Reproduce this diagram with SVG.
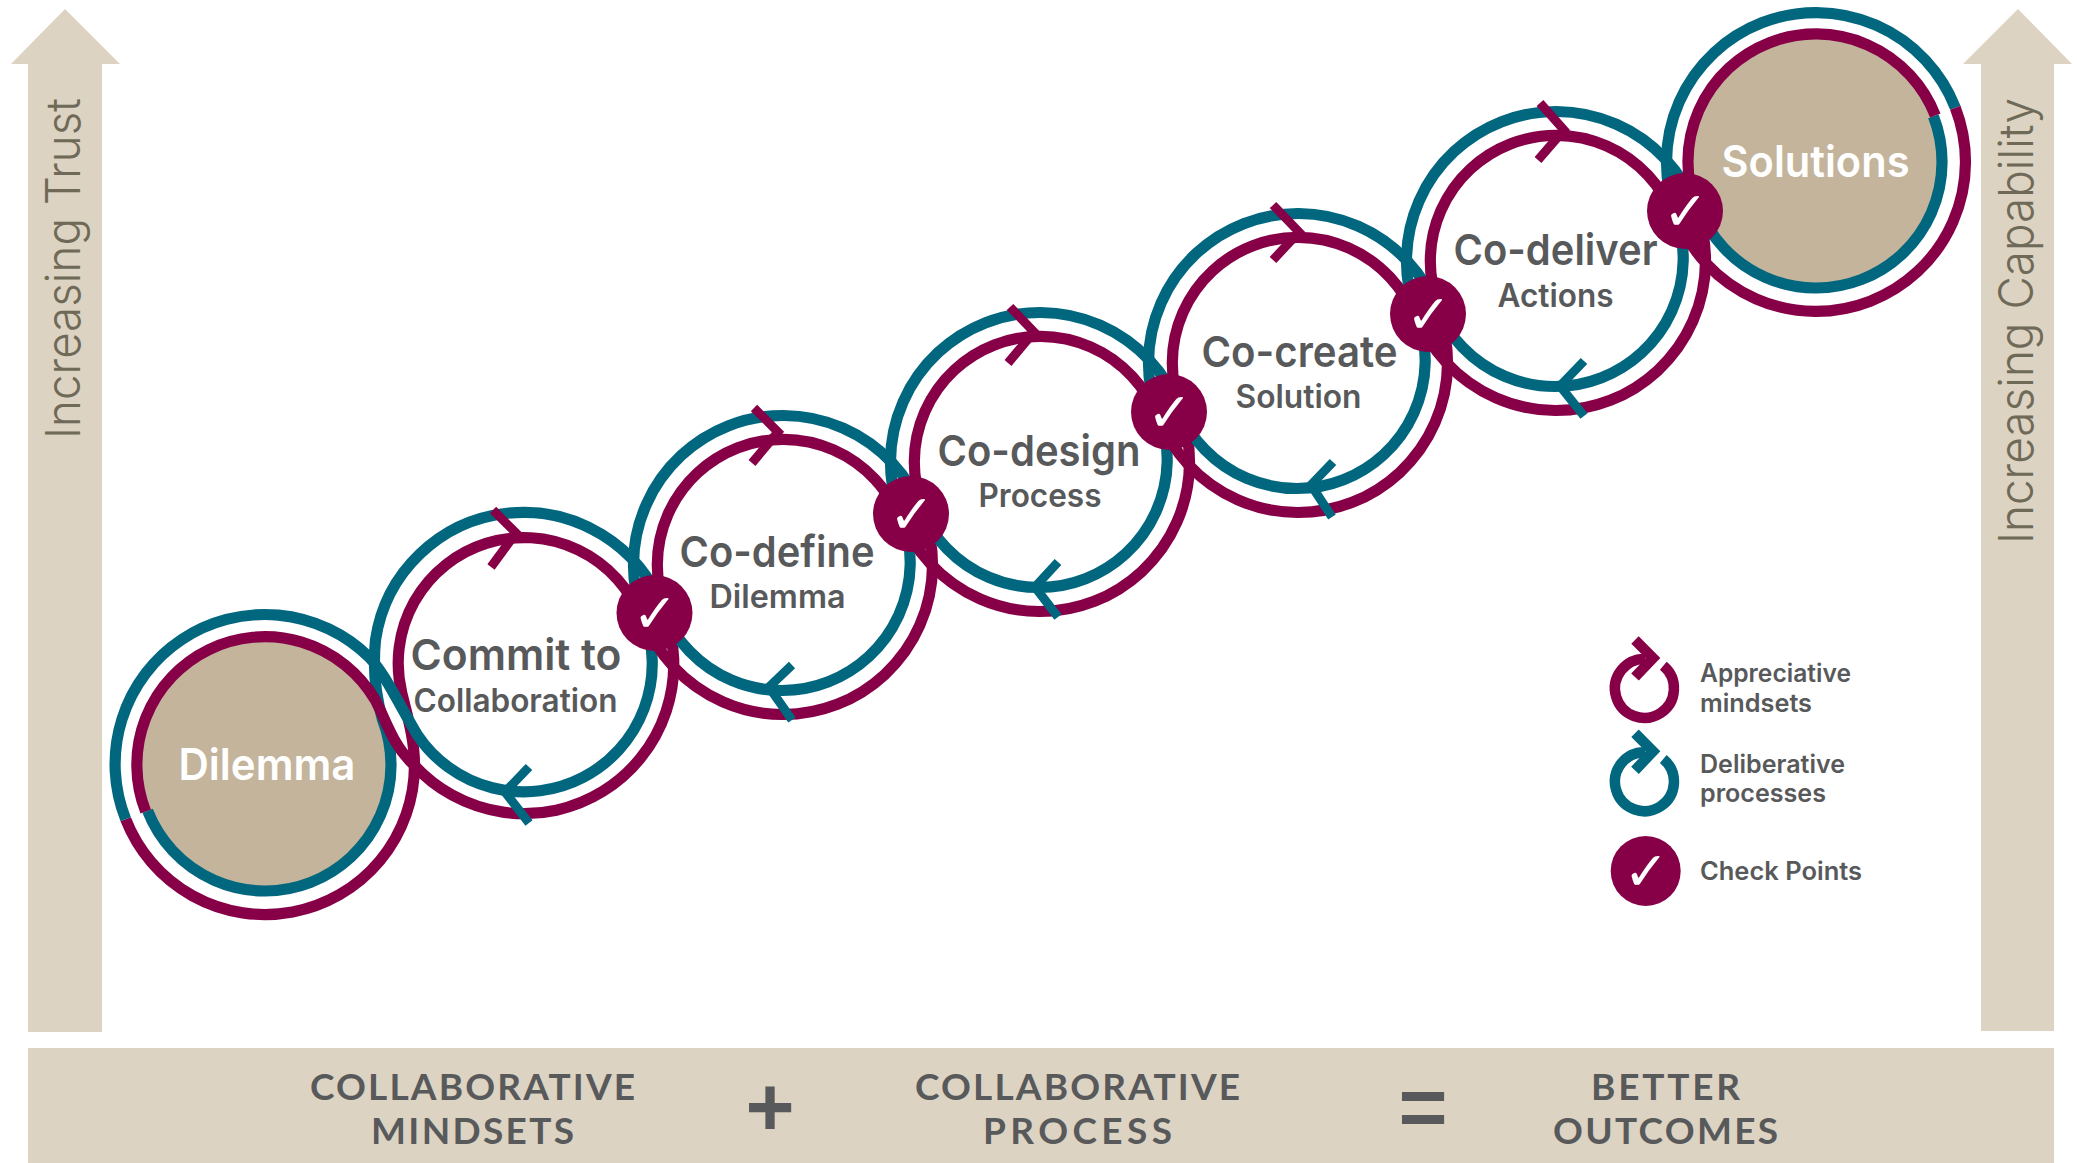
<svg xmlns="http://www.w3.org/2000/svg" xmlns:xlink="http://www.w3.org/1999/xlink" width="2077" height="1163" viewBox="0 0 2077 1163">
<style>
.t{fill:none;stroke:#00677f;stroke-width:11.2}
.m{fill:none;stroke:#870047;stroke-width:11.2}
.cm{fill:none;stroke:#870047;stroke-width:9;stroke-miterlimit:10}
.ct{fill:none;stroke:#00677f;stroke-width:9;stroke-miterlimit:10}
.bg{fill:#dcd3c2}
.end{fill:#c3b49b}
.chk{fill:#870047}
.ck{fill:#fff;font-family:"DejaVu Sans",sans-serif;font-weight:700;font-size:54px;text-anchor:middle}
.h{fill:#58595b;font-family:"Inter",sans-serif;font-weight:600;font-size:43px}
.s{fill:#58595b;font-family:"Inter",sans-serif;font-weight:600;font-size:32px}
.w{fill:#fff;font-family:"Inter",sans-serif;font-weight:600;font-size:44px}
.l{fill:#58595b;font-family:"Inter",sans-serif;font-weight:600;font-size:25px}
.b{fill:#58595b;font-family:"Lato",sans-serif;font-weight:700;font-size:37px}
.op{fill:#58595b;font-family:"Liberation Sans",sans-serif;font-weight:700;font-size:84px;text-anchor:middle}
.a{fill:#6f6a57;font-family:"Inter",sans-serif;font-weight:300;font-size:48px}
</style>
<defs>
<g id="ring">
<path class="t" d="M-139.3 54.3A149.5 149.5 0 0 1 139.3 -54.3"/>
<path class="t" d="M119.5 -46.6A128.3 128.3 0 0 1 -119.5 46.6"/>
<path class="m" d="M-117.1 45.7A125.7 125.7 0 0 1 117.1 -45.7"/>
<path class="m" d="M139.3 -54.3A149.5 149.5 0 0 1 -139.3 54.3"/>
</g>
<g id="loop">
<path d="M1645.3 658.9A29.5 29.5 0 1 0 1663.3 665.7" fill="none" stroke-width="10.5" stroke="currentColor"/>
<polyline points="1635,640 1653,658 1635,677" fill="none" stroke-width="10.5" stroke="currentColor" stroke-miterlimit="10"/>
</g>
</defs>
<rect width="2077" height="1163" fill="#fff"/>

<g id="arrow-trust">
<polygon class="bg" points="65,9 120,64 102,64 102,1032 28,1032 28,64 11,64"/>
<text class="a" transform="translate(80 439) rotate(-90)" textLength="341" lengthAdjust="spacingAndGlyphs">Increasing Trust</text>
</g>
<g id="arrow-capability">
<polygon class="bg" points="2018,9 2072,64 2054,64 2054,1031 1981,1031 1981,64 1963,64"/>
<text class="a" transform="translate(2033 544) rotate(-90)" textLength="446" lengthAdjust="spacingAndGlyphs">Increasing Capability</text>
</g>
<g id="equation">
<rect class="bg" x="28" y="1048" width="2026" height="115"/>
<text class="b" x="310" y="1100" textLength="325">COLLABORATIVE</text>
<text class="b" x="371" y="1144" textLength="203">MINDSETS</text>
<text class="op" x="770" y="1136">+</text>
<text class="b" x="915" y="1100" textLength="325">COLLABORATIVE</text>
<text class="b" x="983" y="1144" textLength="189">PROCESS</text>
<text class="op" x="1423" y="1136">=</text>
<text class="b" x="1591" y="1100" textLength="149">BETTER</text>
<text class="b" x="1553" y="1144" textLength="225">OUTCOMES</text>
</g>

<g id="fill-dilemma"><circle class="end" cx="265" cy="765" r="127"/></g>
<g id="fill-solutions"><circle class="end" cx="1816" cy="162" r="127"/></g>

<g id="connectors">
<path class="m" d="M125.7 819.3A149.5 149.5 0 0 0 414.5 765C414.5 740 408 718 401.8 693.1A125.7 125.7 0 0 1 641.1 617.8"/>
<path class="t" d="M147.6 810.8A126 126 0 0 0 382.4 719.2C377 700 372 675 375.5 640A149.5 149.5 0 0 1 663.3 609.2"/>
<path class="m" d="M145.7 811.5A128 128 0 0 1 375.1 699.7C386 720 392 744 413 764A149.5 149.5 0 0 0 663.3 609.2"/>
<path class="t" d="M125.7 819.3A149.5 149.5 0 0 1 369 657C384 672 400 706 417.3 734.8A128.3 128.3 0 0 0 643.5 616.9"/>
<use href="#ring" xlink:href="#ring" x="783" y="565"/>
<use href="#ring" xlink:href="#ring" x="1040" y="462"/>
<use href="#ring" xlink:href="#ring" x="1298" y="363"/>
<use href="#ring" xlink:href="#ring" x="1556" y="261"/>
<path class="t" d="M1676.7 216.3A149.5 149.5 0 0 1 1955.3 107.7"/>
<path class="t" d="M1933.4 116.2A126 126 0 0 1 1698.6 207.8"/>
<path class="m" d="M1696.7 208.5A128 128 0 0 1 1935.3 115.5"/>
<path class="m" d="M1955.3 107.7A149.5 149.5 0 0 1 1676.7 216.3"/>
<polyline class="cm" points="493,510 516,533 491,567"/>
<polyline class="ct" points="529,767 505,792 529,823"/>
<polyline class="cm" points="754,408 778,432 752,463"/>
<polyline class="ct" points="792,665 769,687 792,720"/>
<polyline class="cm" points="1010,307 1034,332 1008,363"/>
<polyline class="ct" points="1058,562 1035,587 1058,617"/>
<polyline class="cm" points="1273,205 1299,232 1273,260"/>
<polyline class="ct" points="1333,462 1311,485 1332,517"/>
<polyline class="cm" points="1540,103 1564,130 1538,160"/>
<polyline class="ct" points="1584,361 1560,386 1584,416"/>
</g>

<g id="node-dilemma"><text class="w" x="178.5" y="780" textLength="177" lengthAdjust="spacingAndGlyphs">Dilemma</text></g>
<g id="node-commit"><text class="h" x="410.5" y="670" textLength="211" lengthAdjust="spacingAndGlyphs">Commit to</text><text class="s" x="413.5" y="712" textLength="204" lengthAdjust="spacingAndGlyphs">Collaboration</text></g>
<g id="node-codefine"><text class="h" x="679.5" y="567" textLength="195" lengthAdjust="spacingAndGlyphs">Co-define</text><text class="s" x="709.5" y="608" textLength="136" lengthAdjust="spacingAndGlyphs">Dilemma</text></g>
<g id="node-codesign"><text class="h" x="937.5" y="466" textLength="203" lengthAdjust="spacingAndGlyphs">Co-design</text><text class="s" x="978.5" y="507" textLength="123" lengthAdjust="spacingAndGlyphs">Process</text></g>
<g id="node-cocreate"><text class="h" x="1201.5" y="367" textLength="196" lengthAdjust="spacingAndGlyphs">Co-create</text><text class="s" x="1235.5" y="408" textLength="126" lengthAdjust="spacingAndGlyphs">Solution</text></g>
<g id="node-codeliver"><text class="h" x="1453.5" y="265" textLength="204" lengthAdjust="spacingAndGlyphs">Co-deliver</text><text class="s" x="1497.5" y="307" textLength="116" lengthAdjust="spacingAndGlyphs">Actions</text></g>
<g id="node-solutions"><text class="w" x="1721.5" y="177" textLength="188" lengthAdjust="spacingAndGlyphs">Solutions</text></g>

<g id="check-1"><circle class="chk" cx="654.5" cy="613" r="38"/><text class="ck" x="655" y="632">✓</text></g>
<g id="check-2"><circle class="chk" cx="911" cy="514" r="38"/><text class="ck" x="911.5" y="533">✓</text></g>
<g id="check-3"><circle class="chk" cx="1169" cy="412" r="38"/><text class="ck" x="1169.5" y="431">✓</text></g>
<g id="check-4"><circle class="chk" cx="1428" cy="314" r="38"/><text class="ck" x="1428.5" y="333">✓</text></g>
<g id="check-5"><circle class="chk" cx="1685" cy="211" r="38"/><text class="ck" x="1685.5" y="230">✓</text></g>

<g id="legend-appreciative"><use href="#loop" xlink:href="#loop" color="#870047"/><text class="l" x="1700" y="682" textLength="151" lengthAdjust="spacingAndGlyphs">Appreciative</text><text class="l" x="1700" y="712" textLength="112" lengthAdjust="spacingAndGlyphs">mindsets</text></g>
<g id="legend-deliberative"><use href="#loop" xlink:href="#loop" y="93.3" color="#00677f"/><text class="l" x="1700" y="773" textLength="145" lengthAdjust="spacingAndGlyphs">Deliberative</text><text class="l" x="1700" y="802" textLength="126" lengthAdjust="spacingAndGlyphs">processes</text></g>
<g id="legend-check"><circle class="chk" cx="1645.7" cy="871" r="35"/><text class="ck" x="1646" y="890">✓</text><text class="l" x="1700" y="880" textLength="162" lengthAdjust="spacingAndGlyphs">Check Points</text></g>
</svg>
